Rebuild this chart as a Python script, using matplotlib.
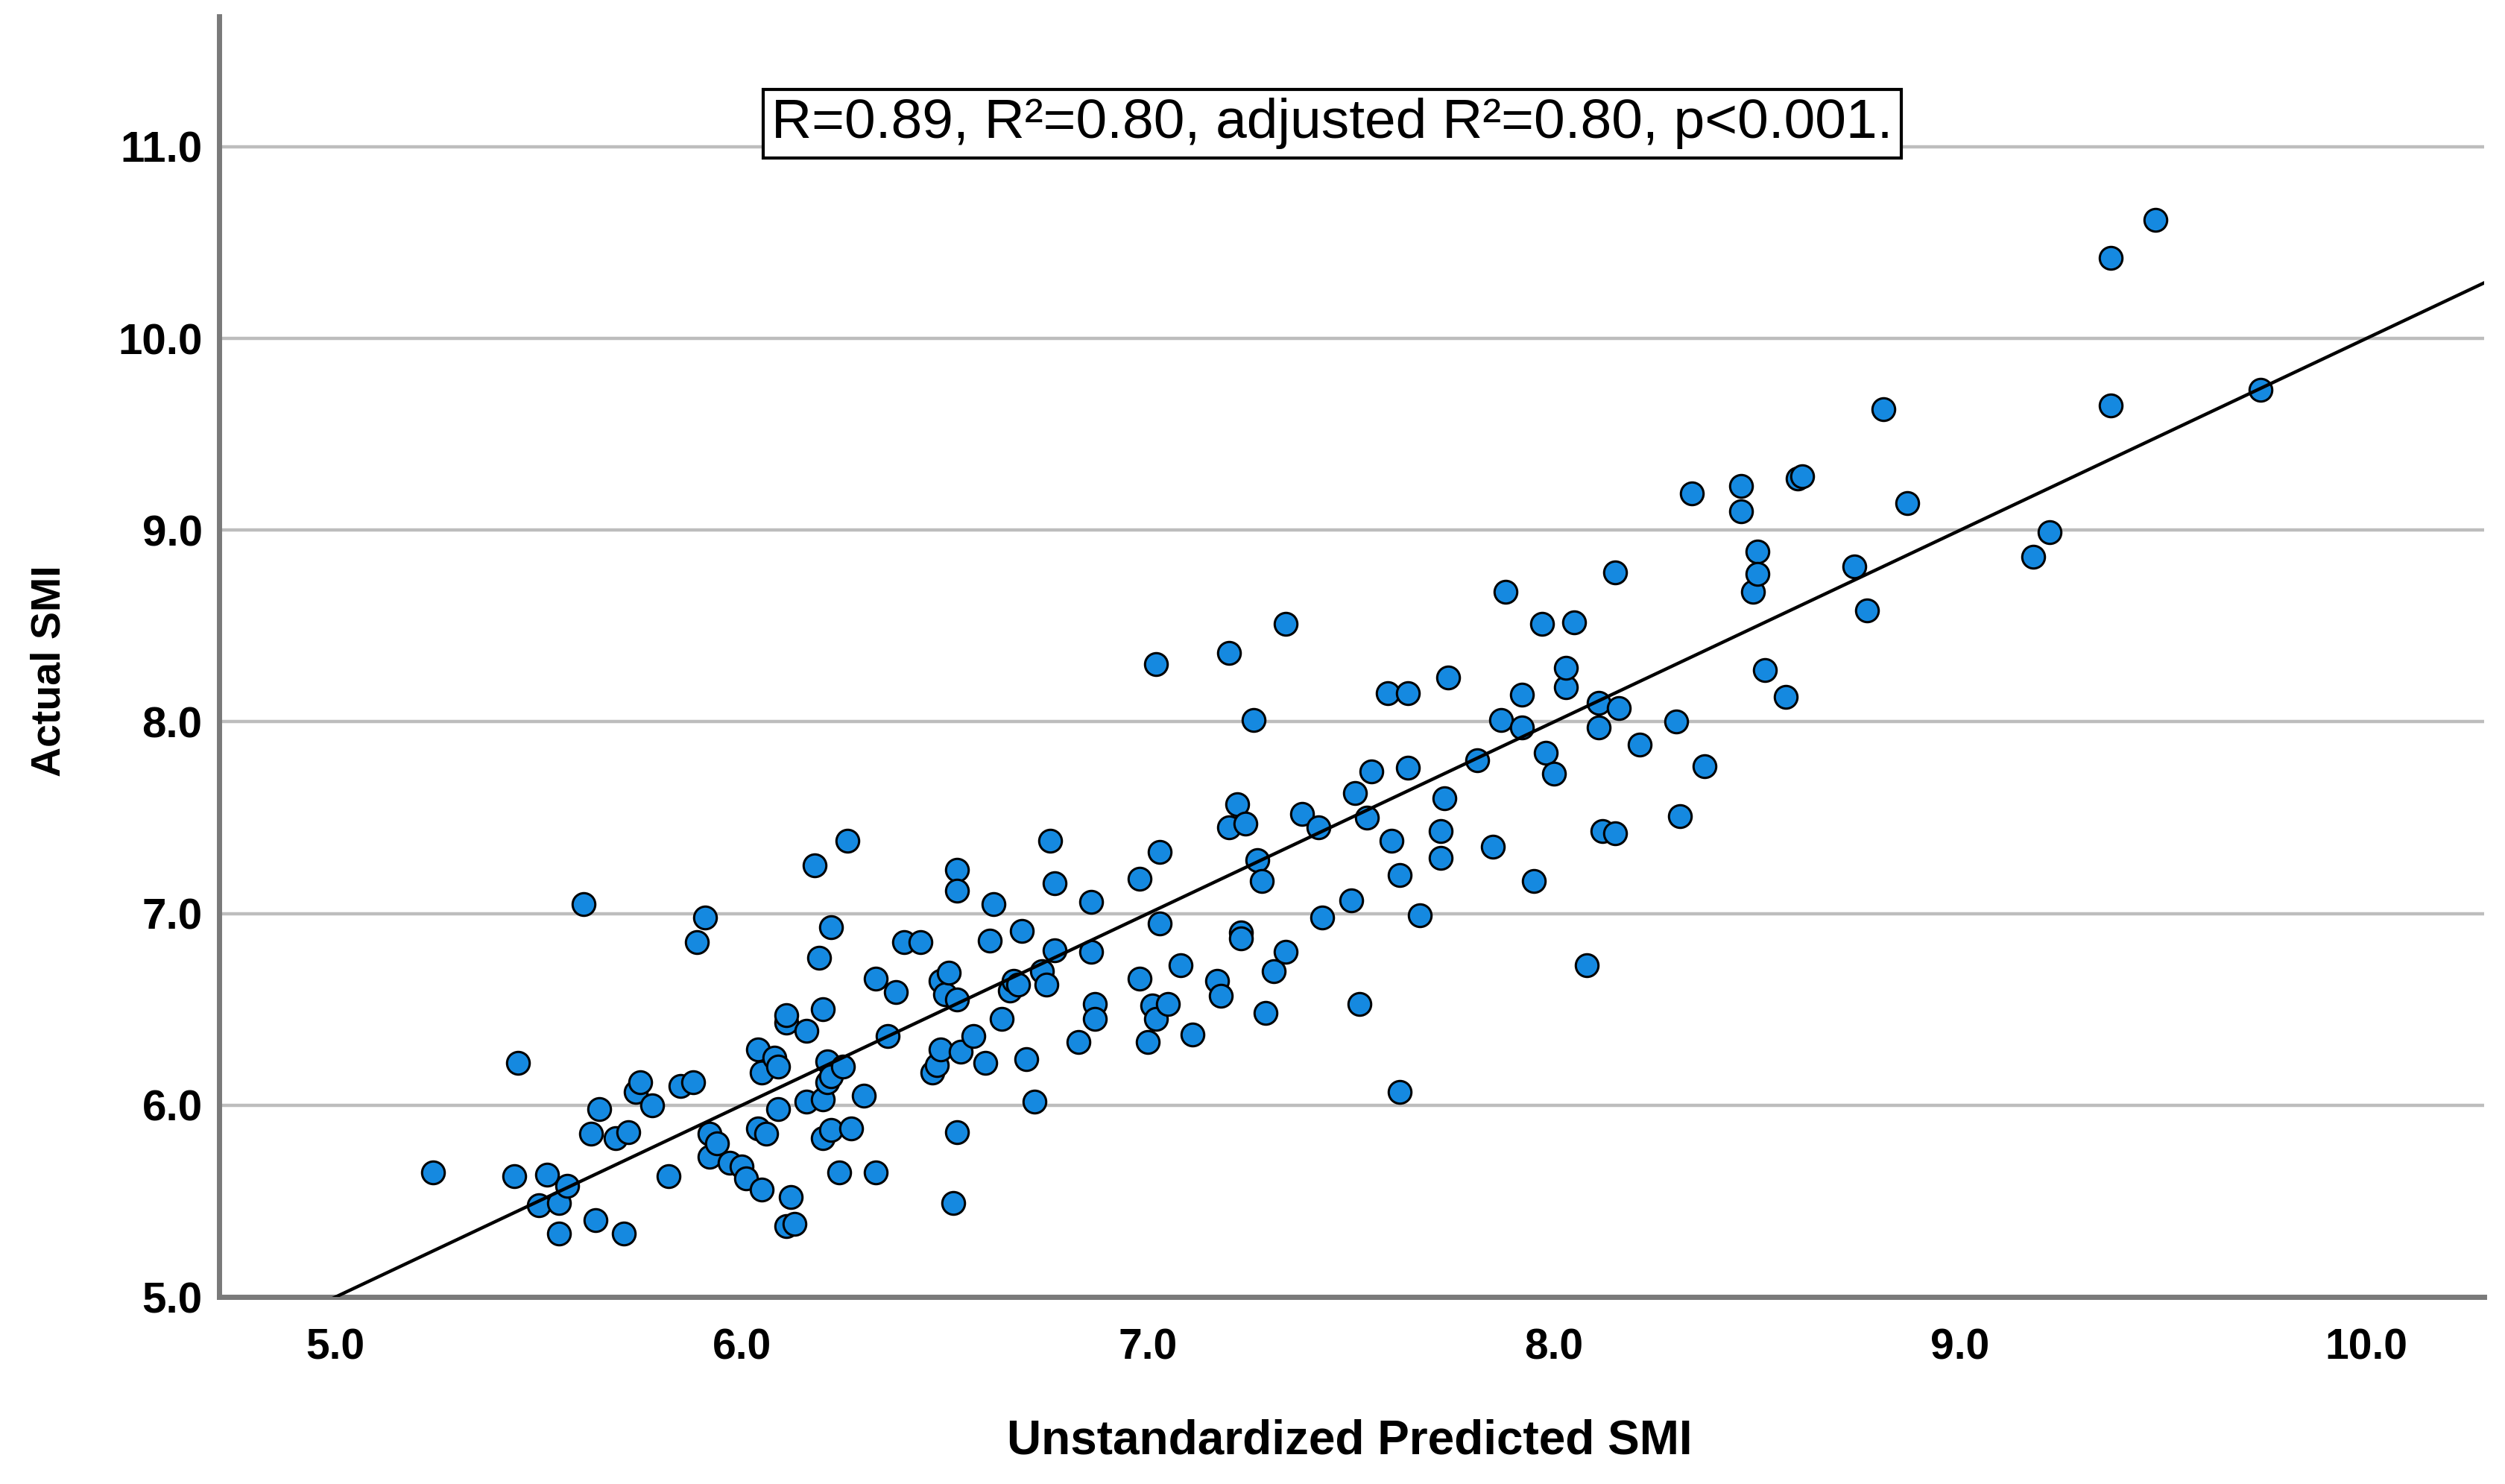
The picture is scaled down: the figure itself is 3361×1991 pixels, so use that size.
import matplotlib
matplotlib.use("Agg")
import matplotlib.pyplot as plt
import numpy as np

# Data (predicted SMI, actual SMI)
predicted = [5.24, 5.44, 5.45, 5.50, 5.52, 5.55, 5.55, 5.57, 5.61, 5.63, 5.64, 5.65, 5.69, 5.71, 5.72,
             5.74, 5.75, 5.78, 5.82, 5.85, 5.88, 5.89, 5.91, 5.92, 5.92, 5.94, 5.97, 6.00, 6.01, 6.04,
             6.04, 6.05, 6.05, 6.06, 6.08, 6.09, 6.09, 6.11, 6.11, 6.11, 6.12, 6.13, 6.16, 6.16, 6.18,
             6.19, 6.20, 6.20, 6.20, 6.21, 6.21, 6.22, 6.22, 6.22, 6.24, 6.25, 6.26, 6.27, 6.30, 6.33,
             6.33, 6.36, 6.38, 6.40, 6.44, 6.47, 6.48, 6.49, 6.49, 6.50, 6.51, 6.52, 6.53, 6.53, 6.53,
             6.53, 6.54, 6.57, 6.60, 6.61, 6.62, 6.64, 6.66, 6.67, 6.68, 6.69, 6.70, 6.72, 6.74, 6.75,
             6.76, 6.77, 6.77, 6.83, 6.86, 6.86, 6.87, 6.87, 6.98, 6.98, 7.00, 7.01, 7.02, 7.02, 7.03,
             7.03, 7.05, 7.08, 7.11, 7.17, 7.18, 7.20, 7.20, 7.22, 7.23, 7.23, 7.24, 7.26, 7.27, 7.28,
             7.29, 7.31, 7.34, 7.34, 7.38, 7.42, 7.43, 7.50, 7.51, 7.52, 7.54, 7.55, 7.59, 7.60, 7.62,
             7.62, 7.64, 7.64, 7.67, 7.72, 7.72, 7.73, 7.74, 7.81, 7.85, 7.87, 7.88, 7.92, 7.92, 7.95,
             7.97, 7.98, 8.00, 8.03, 8.03, 8.05, 8.08, 8.11, 8.11, 8.12, 8.15, 8.15, 8.16, 8.21, 8.30,
             8.31, 8.34, 8.37, 8.46, 8.46, 8.49, 8.50, 8.50, 8.52, 8.57, 8.60, 8.61, 8.74, 8.77, 8.81,
             8.87, 9.18, 9.22, 9.37, 9.37, 9.48, 9.74]
actual = [5.65, 5.63, 6.22, 5.48, 5.64, 5.33, 5.49, 5.58, 7.05, 5.85, 5.40, 5.98, 5.83, 5.33, 5.86,
          6.07, 6.12, 6.00, 5.63, 6.10, 6.12, 6.85, 6.98, 5.85, 5.73, 5.80, 5.70, 5.68, 5.62, 6.29,
          5.88, 5.56, 6.17, 5.85, 6.25, 5.98, 6.20, 6.43, 6.47, 5.37, 5.52, 5.38, 6.02, 6.39, 7.25,
          6.77, 6.03, 6.50, 5.83, 6.12, 6.23, 5.87, 6.93, 6.15, 5.65, 6.20, 7.38, 5.88, 6.05, 6.66,
          5.65, 6.36, 6.59, 6.85, 6.85, 6.17, 6.21, 6.65, 6.29, 6.58, 6.69, 5.49, 7.23, 5.86, 6.55,
          7.12, 6.28, 6.36, 6.22, 6.86, 7.05, 6.45, 6.60, 6.65, 6.63, 6.91, 6.24, 6.02, 6.70, 6.63,
          7.38, 6.81, 7.16, 6.33, 6.80, 7.06, 6.53, 6.45, 6.66, 7.18, 6.33, 6.52, 6.45, 8.30, 6.95,
          7.32, 6.53, 6.73, 6.37, 6.65, 6.57, 8.36, 7.45, 7.57, 6.90, 6.87, 7.47, 8.01, 7.28, 7.17,
          6.48, 6.70, 6.80, 8.51, 7.52, 7.45, 6.98, 7.07, 7.63, 6.53, 7.50, 7.74, 8.15, 7.38, 7.20,
          6.07, 8.15, 7.76, 6.99, 7.29, 7.43, 7.60, 8.23, 7.80, 7.35, 8.01, 8.68, 8.14, 7.97, 7.17,
          8.51, 7.84, 7.73, 8.18, 8.28, 8.52, 6.73, 7.97, 8.10, 7.43, 7.42, 8.78, 8.07, 7.88, 8.00,
          7.51, 9.19, 7.77, 9.23, 9.10, 8.68, 8.89, 8.77, 8.27, 8.13, 9.27, 9.28, 8.81, 8.58, 9.63,
          9.14, 8.86, 8.99, 10.42, 9.65, 10.62, 9.73]

fit_intercept = 0.0
fit_slope = 1.0

x_ticks = [5.0, 6.0, 7.0, 8.0, 9.0, 10.0]
y_ticks = [5.0, 6.0, 7.0, 8.0, 9.0, 10.0, 11.0]
x_label = "Unstandardized Predicted SMI"
y_label = "Actual SMI"
annotation = "R=0.89, R²=0.80, adjusted R²=0.80, p<0.001."

plt.rcParams['font.family'] = ['Liberation Sans', 'DejaVu Sans']

fig = plt.figure(figsize=(3361 / 200, 1991 / 200), dpi=200)
ax = fig.add_axes([0.0874, 0.126, 0.9043, 0.863])

xlim = (4.713, 10.29)
ylim = (5.0, 11.68)
ax.set_xlim(*xlim)
ax.set_ylim(*ylim)

ax.yaxis.grid(True, color='#bdbdbd', linewidth=1.6)
ax.set_axisbelow(True)

ax.scatter(predicted, actual, s=120, c='#1589e0', edgecolors='black', linewidths=1.1, zorder=3)

xl = np.array(xlim)
ax.plot(xl, fit_intercept + fit_slope * xl, color='black', linewidth=1.6, zorder=4)

ax.set_xticks(x_ticks)
ax.set_yticks(y_ticks)
ax.set_xticklabels([f"{v:.1f}" for v in x_ticks], fontsize=20.5, fontweight='bold')
ax.set_yticklabels([f"{v:.1f}" for v in y_ticks], fontsize=21, fontweight='bold')
ax.tick_params(axis='x', length=0, pad=15)
ax.tick_params(axis='y', length=0, pad=8)

for side in ['top', 'right']:
    ax.spines[side].set_visible(False)
for side in ['left', 'bottom']:
    ax.spines[side].set_color('#7a7a7a')
    ax.spines[side].set_linewidth(2.5)

ax.set_xlabel(x_label, fontsize=23, fontweight='bold')
ax.set_ylabel(y_label, fontsize=20, fontweight='bold')
ax.xaxis.set_label_coords(0.499, -0.095)
ax.yaxis.set_label_coords(-0.0663, 0.489)

ax.text(0.4915, 11.12, annotation, transform=ax.get_yaxis_transform(),
        fontsize=27, ha='center', va='center', zorder=5,
        bbox=dict(boxstyle='square,pad=0.15', facecolor='white', edgecolor='black', linewidth=1.5))

fig.savefig("out.png", dpi=200)
